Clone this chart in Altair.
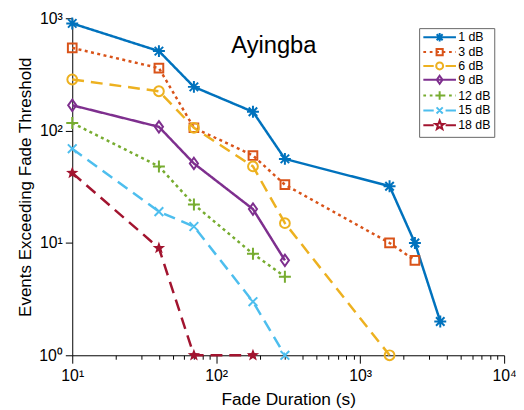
import math
import altair as alt
import pandas as pd

# ---------------- data ----------------
series = ["1 dB", "3 dB", "6 dB", "9 dB", "12 dB", "15 dB", "18 dB"]
colors = ["#0072BD", "#D95319", "#EDB120", "#7E2F8E", "#77AC30", "#4DBEEE", "#A2142F"]

dur_1dB = [10, 40, 70, 180, 300, 1600, 2400, 3600]
evt_1dB = [900, 510, 245, 147, 56, 32, 10, 2]
dur_3dB = [10, 40, 70, 180, 300, 1600, 2400]
evt_3dB = [545, 360, 106, 60, 33, 10, 7]
dur_6dB = [10, 40, 70, 180, 300, 1600]
evt_6dB = [285, 224, 106, 48, 15, 1]
dur_9dB = [10, 40, 70, 180, 300]
evt_9dB = [168, 108, 51, 20, 7]
dur_12dB = [10, 40, 70, 180, 300]
evt_12dB = [117, 48, 22, 8, 5]
dur_15dB = [10, 40, 70, 180, 300]
evt_15dB = [69, 19, 14, 3, 1]
dur_18dB = [10, 40, 70, 180]
evt_18dB = [42, 9, 1, 1]

x_ticks = [10, 20, 30, 40, 50, 60, 70, 80, 90,
           100, 200, 300, 400, 500, 600, 700, 800, 900,
           1000, 2000, 3000, 4000, 5000, 6000, 7000, 8000, 9000, 10000]
y_ticks = [1, 10, 100, 1000]
title_text = "Ayingba"

durs = [dur_1dB, dur_3dB, dur_6dB, dur_9dB, dur_12dB, dur_15dB, dur_18dB]
evts = [evt_1dB, evt_3dB, evt_6dB, evt_9dB, evt_12dB, evt_15dB, evt_18dB]
rows = []
for s, d, e in zip(series, durs, evts):
    for di, ei in zip(d, e):
        rows.append({"series": s, "dur": di, "evt": ei})
df = pd.DataFrame(rows)

# ---------------- styles ----------------
FONT = "Liberation Sans"
SOLID, DOT, DASH = [1, 0], [3, 3.5], [12, 7]
line_dashes = [SOLID, DOT, DASH, SOLID, DOT, DASH, DASH]


def star_pts(cx, R, r):
    pts = []
    for k in range(10):
        rad = R if k % 2 == 0 else r
        a = -math.pi / 2 + k * math.pi / 5
        pts.append((cx + rad * math.cos(a), rad * math.sin(a)))
    return "M" + "L".join(f"{x:.3f},{y:.3f}" for x, y in pts) + "Z"


def marker_path(kind, cx, s):
    if kind == "asterisk":
        a, d = 1.1 * s, 0.78 * s
        return (f"M{cx},{-a}L{cx},{a}M{cx-a},0L{cx+a},0"
                f"M{cx-d},{-d}L{cx+d},{d}M{cx-d},{d}L{cx+d},{-d}")
    if kind == "square":
        r = 0.8 * s
        return f"M{cx-r},{-r}L{cx+r},{-r}L{cx+r},{r}L{cx-r},{r}Z"
    if kind == "circle":
        r = 0.9 * s
        return f"M{cx+r},0A{r},{r},0,1,1,{cx-r},0A{r},{r},0,1,1,{cx+r},0Z"
    if kind == "diamond":
        h, w = 1.05 * s, 0.75 * s
        return f"M{cx},{-h}L{cx+w},0L{cx},{h}L{cx-w},0Z"
    if kind == "plus":
        a = 1.1 * s
        return f"M{cx},{-a}L{cx},{a}M{cx-a},0L{cx+a},0"
    if kind == "x":
        d = 0.8 * s
        return f"M{cx-d},{-d}L{cx+d},{d}M{cx-d},{d}L{cx+d},{-d}"
    if kind == "star":
        return star_pts(cx, 1.2 * s, 0.5 * s)


kinds = ["asterisk", "square", "circle", "diamond", "plus", "x", "star"]
plot_shapes = [marker_path(k, 0, 1.0) for k in kinds]

# legend symbols: line segment (with its dash pattern) + marker, unit = 5 px
X0, X1, CX = -1.0, 5.6, 2.3


def line_part(style):
    if style == "solid":
        return f"M{X0},0L{X1},0"
    if style == "dot":
        segs, x = [], X0
        while x < X1:
            segs.append(f"M{x:.2f},0L{min(x + 0.55, X1):.2f},0")
            x += 1.3
        return "".join(segs)
    return f"M{X0},0L{X0 + 2.1},0M{X1 - 2.1},0L{X1},0"


line_styles = ["solid", "dot", "dash", "solid", "dot", "dash", "dash"]
legend_shapes = [line_part(ls) + marker_path(k, CX, 0.78) for ls, k in zip(line_styles, kinds)]

# ---------------- encodings ----------------
is_major = "abs(log(datum.value)/LN10 - round(log(datum.value)/LN10)) < 0.001"
sup = "['⁰','¹','²','³','⁴'][round(log(datum.value)/LN10)]"

x_enc = alt.X(
    "dur:Q",
    scale=alt.Scale(type="log", domain=[10, 10000]),
    axis=alt.Axis(
        title="Fade Duration (s)", values=x_ticks, grid=False,
        labelExpr=f"{is_major} ? '10' + {sup} : ''",
        tickSize={"condition": {"test": is_major, "value": 8}, "value": 4},
        labelOverlap=False, labelFlush=False,
        labelFont=FONT, labelFontSize=16, labelColor="black", labelPadding=5,
        titleFont=FONT, titleFontSize=17.5, titleFontWeight="normal", titleColor="black",
        titlePadding=7, domainColor="black", tickColor="black",
    ),
)
y_enc = alt.Y(
    "evt:Q",
    scale=alt.Scale(type="log", domain=[1, 1000]),
    axis=alt.Axis(
        title="Events Exceeding Fade Threshold", values=y_ticks, grid=False,
        labelExpr="'10' + " + sup, tickSize=7,
        labelOverlap=False, labelFlush=False,
        labelFont=FONT, labelFontSize=16, labelColor="black", labelPadding=3,
        titleFont=FONT, titleFontSize=17.2, titleFontWeight="normal", titleColor="black",
        titlePadding=4, domainColor="black", tickColor="black",
    ),
)
color_scale = alt.Scale(domain=series, range=colors)
color_nolegend = alt.Color("series:N", scale=color_scale, legend=None)
shape_nolegend = alt.Shape("series:N", scale=alt.Scale(domain=series, range=plot_shapes), legend=None)

base = alt.Chart(df)

lines = base.mark_line(strokeWidth=2.5).encode(
    x=x_enc, y=y_enc, color=color_nolegend,
    strokeDash=alt.StrokeDash("series:N", scale=alt.Scale(domain=series, range=line_dashes), legend=None),
)
points_open = base.transform_filter(alt.datum.series != "18 dB").mark_point(
    filled=False, size=121, strokeWidth=2, opacity=1
).encode(x=x_enc, y=y_enc, color=color_nolegend, shape=shape_nolegend)
points_star = base.transform_filter(alt.datum.series == "18 dB").mark_point(
    filled=True, size=121, opacity=1
).encode(x=x_enc, y=y_enc, color=color_nolegend, shape=shape_nolegend)

# legend carrier: one invisible (clipped) point per series
leg_df = pd.DataFrame({"series": series, "dur": [1e-5] * len(series), "evt": [10] * len(series)})
legend_props = dict(
    title=None, orient="none", legendX=351, legendY=10,
    labelFont=FONT, labelFontSize=12.5, labelColor="black", labelOffset=24,
    symbolSize=100, symbolStrokeWidth=2, padding=3, rowPadding=-2,
    strokeColor="#666666", fillColor="white",
)
legend_layer = alt.Chart(leg_df).mark_point(
    filled=False, size=100, strokeWidth=2, opacity=1, clip=True
).encode(
    x=x_enc, y=y_enc,
    color=alt.Color("series:N", scale=color_scale, legend=alt.Legend(**legend_props)),
    shape=alt.Shape("series:N", scale=alt.Scale(domain=series, range=legend_shapes),
                    legend=alt.Legend(**legend_props)),
)

title_layer = alt.Chart(pd.DataFrame({"t": [title_text]})).mark_text(
    font=FONT, fontSize=24, color="black", align="center", baseline="middle"
).encode(text="t:N", x=alt.value(204), y=alt.value(28))

chart = alt.layer(lines, points_open, points_star, legend_layer, title_layer).resolve_scale(
    shape="independent", color="independent"
).properties(
    width=437, height=341,
    autosize=alt.AutoSizeParams(type="none"),
    padding={"left": 65, "top": 8, "right": 12, "bottom": 54},
).configure_view(stroke=None).configure_legend(rowPadding=-2)

chart.save("out.html", embed_options={"renderer": "svg", "actions": False})
